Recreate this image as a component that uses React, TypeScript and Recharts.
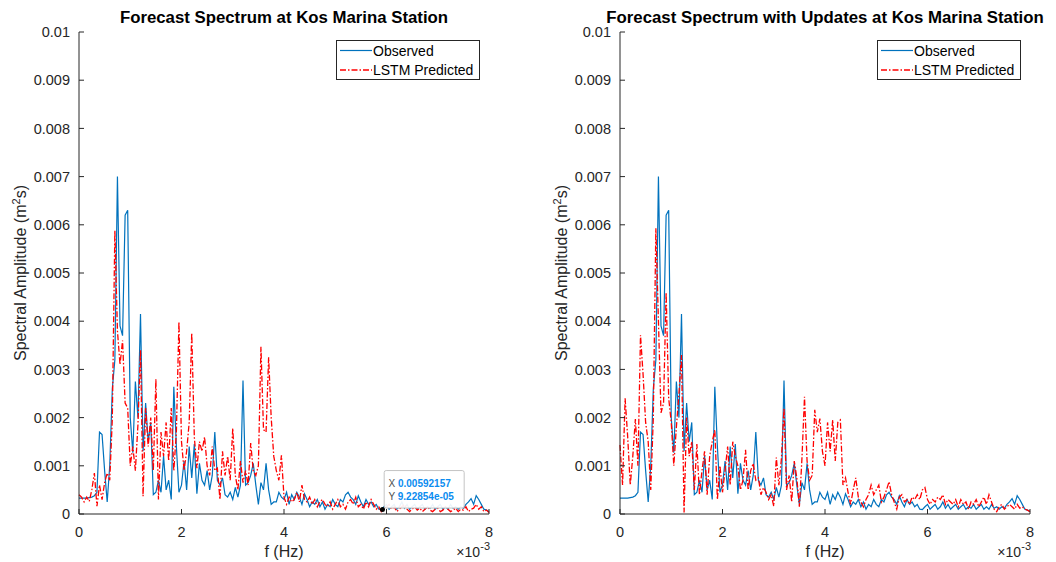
import React from "react";
import { LineChart, Line, XAxis, YAxis, ReferenceDot } from "recharts";

const FONT = '"Liberation Sans", Arial, Helvetica, sans-serif';
const INK = "#262626";
const BLUE = "#0072BD";
const RED = "#FF0000";

// FFT bin spacing, in units of 1e-3 Hz
const F_STEP = 0.05;
const xTicks = [0, 2, 4, 6, 8];
const yTicks = [0, 0.001, 0.002, 0.003, 0.004, 0.005, 0.006, 0.007, 0.008, 0.009, 0.01];

// spectral amplitudes, in units of 1e-3 m^2 s, one value per bin from 0 to 8e-3 Hz
const observed = [
  0.33, 0.33, 0.33, 0.33, 0.34, 0.35, 0.38, 0.45, 1.7, 1.65,
  0.9, 0.25, 1.0, 2.6, 3.2, 7.0, 3.9, 3.7, 6.2, 6.3,
  2.0, 1.27, 2.75, 2.0, 4.15, 1.3, 2.3, 1.5, 1.9, 0.4,
  0.45, 0.7, 0.45, 1.2, 0.5, 0.7, 0.3, 2.64, 1.4, 0.45,
  0.6, 1.1, 0.5, 1.4, 0.75, 1.45, 0.42, 1.05, 0.7, 0.6,
  0.9, 0.5, 0.8, 1.7, 0.7, 0.6, 0.75, 0.4, 0.35, 0.45,
  0.3, 0.55, 0.35, 0.6, 2.77, 0.6, 0.65, 0.8, 1.05, 0.6,
  0.2, 0.65, 0.5, 1.05, 0.5, 0.2, 0.25, 0.25, 0.45, 0.35,
  0.3, 0.45, 0.2, 0.4, 0.3, 0.45, 0.35, 0.2, 0.42, 0.3,
  0.15, 0.25, 0.2, 0.3, 0.15, 0.25, 0.1, 0.2, 0.15, 0.3,
  0.2, 0.15, 0.3, 0.25, 0.4, 0.45, 0.35, 0.3, 0.2, 0.38,
  0.25, 0.15, 0.3, 0.2, 0.25, 0.15, 0.2, 0.1, 0.09, 0.15,
  0.2, 0.1, 0.15, 0.2, 0.1, 0.15, 0.25, 0.12, 0.2, 0.1,
  0.15, 0.2, 0.1, 0.15, 0.2, 0.1, 0.15, 0.12, 0.2, 0.1,
  0.15, 0.2, 0.1, 0.15, 0.1, 0.2, 0.12, 0.15, 0.1, 0.15,
  0.12, 0.2, 0.25, 0.32, 0.2, 0.38, 0.3, 0.2, 0.1, 0.08,
  0.05,
];

const predicted = [
  0.4, 0.35, 0.25, 0.35, 0.26, 0.5, 0.85, 0.16, 0.6, 0.3,
  0.65, 0.85, 0.7, 1.97, 5.88, 3.8, 3.1, 3.6, 2.3, 2.2,
  1.0, 1.4, 0.9, 1.85, 3.4, 0.37, 2.2, 1.4, 2.0, 0.9,
  2.8, 0.3, 1.7, 1.2, 1.9, 1.1, 2.2, 0.9, 1.7, 3.99,
  1.5, 0.9, 1.3, 1.9, 3.76, 1.6, 0.95, 1.5, 1.3, 1.6,
  1.0, 0.8, 1.4, 0.9, 0.95, 0.3, 1.3, 0.8, 1.2, 0.7,
  1.78, 0.8, 0.5, 1.1, 0.65, 0.9, 0.6, 1.47, 0.9, 0.8,
  1.0, 3.47, 1.75, 1.7, 3.25, 2.0, 1.2, 0.9, 0.7, 1.22,
  0.35, 0.2, 0.35, 0.25, 0.3, 0.45, 0.25, 0.6, 0.3, 0.25,
  0.35, 0.2, 0.3, 0.15, 0.25, 0.3, 0.2, 0.15, 0.25, 0.1,
  0.2, 0.3, 0.15, 0.2, 0.1, 0.25, 0.3, 0.2, 0.35, 0.15,
  0.2, 0.1, 0.25, 0.15, 0.3, 0.2, 0.1, 0.15, 0.05, 0.1,
  0.15, 0.2, 0.1, 0.15, 0.05, 0.1, 0.15, 0.2, 0.1, 0.05,
  0.1, 0.15, 0.08, 0.12, 0.05, 0.1, 0.15, 0.08, 0.05, 0.1,
  0.12, 0.05, 0.08, 0.15, 0.1, 0.05, 0.08, 0.12, 0.05, 0.1,
  0.08, 0.15, 0.05, 0.1, 0.12, 0.2, 0.1, 0.15, 0.05, 0.08,
  0.03,
];

const predictedUpdated = [
  1.43, 0.6, 2.4, 1.6, 0.6, 1.2, 1.97, 1.0, 3.71, 2.9,
  1.9, 1.5, 0.5, 2.0, 5.93, 4.0, 2.1, 2.3, 4.6, 2.4,
  1.9, 1.0, 1.8, 2.5, 3.3, 0.03, 2.0, 1.2, 1.5, 0.5,
  1.45, 0.4, 0.9, 1.3, 0.4, 1.2, 1.5, 1.75, 0.3, 1.0,
  0.45, 0.9, 1.4, 0.6, 1.5, 1.2, 1.0, 0.5, 0.7, 1.33,
  0.5, 0.9, 1.05, 0.7, 0.75, 0.4, 0.55, 0.45, 0.3, 0.4,
  0.16, 1.17, 0.6, 1.15, 2.2, 0.5, 0.8, 0.25, 1.1, 0.75,
  0.15, 1.15, 2.43, 1.1, 0.7, 0.8, 2.16, 1.7, 1.98, 1.3,
  1.0, 1.9, 1.3, 1.95, 1.1, 1.9, 1.95, 0.6, 0.75, 0.45,
  0.2, 0.5, 0.75, 0.35, 0.25, 0.15, 0.3, 0.4, 0.6, 0.4,
  0.5, 0.6, 0.25, 0.35, 0.5, 0.67, 0.4, 0.25, 0.1, 0.35,
  0.4, 0.25, 0.3, 0.2, 0.35, 0.3, 0.4, 0.3, 0.5, 0.55,
  0.3, 0.2, 0.3, 0.25, 0.35, 0.3, 0.4, 0.2, 0.3, 0.25,
  0.2, 0.3, 0.15, 0.3, 0.2, 0.25, 0.1, 0.25, 0.2, 0.3,
  0.15, 0.25, 0.35, 0.2, 0.4, 0.25, 0.1, 0.05, 0.15, 0.2,
  0.1, 0.15, 0.2, 0.15, 0.1, 0.2, 0.12, 0.15, 0.1, 0.08,
  0.05,
];

// data tip shown on the left panel
const tipF = 5.92157; // 1e-3 Hz
const tipAmp = 0.0922854; // 1e-3 m^2 s

const makeRows = (pred: number[]) =>
  observed.map((v, i) => ({
    f: +(i * F_STEP).toFixed(2),
    observed: v * 1e-3,
    predicted: pred[i] * 1e-3,
  }));

const fmtY = (v: number) => String(parseFloat(v.toFixed(3)));

const YLabel = (props: any) => {
  const vb = props.viewBox || {};
  const cx = vb.x + 20;
  const cy = vb.y + vb.height / 2;
  return (
    <text
      x={cx}
      y={cy + 5.5}
      transform={`rotate(-90, ${cx}, ${cy})`}
      textAnchor="middle"
      fontFamily={FONT}
      fontSize={16}
      fill={INK}
    >
      Spectral Amplitude (m<tspan dy={-6} fontSize={11}>2</tspan>
      <tspan dy={6}>s)</tspan>
    </text>
  );
};

const XLabel = (props: any) => {
  const vb = props.viewBox || {};
  const right = vb.x + vb.width;
  return (
    <g fontFamily={FONT} fill={INK}>
      <text x={vb.x + vb.width / 2} y={vb.y + 43} textAnchor="middle" fontSize={16}>
        f (Hz)
      </text>
      <text x={right - 9} y={vb.y + 43} textAnchor="end" fontSize={14}>
        ×10
      </text>
      <text x={right + 1} y={vb.y + 36} textAnchor="end" fontSize={11}>
        -3
      </text>
    </g>
  );
};

const TipShape = (props: any) => {
  const { cx, cy } = props;
  return (
    <g fontFamily={FONT} fontSize={10}>
      <rect x={cx + 1.7} y={cy - 39} width={80} height={37.5} rx={2} fill="#fff" fillOpacity={0.92} stroke="#c4c4c4" />
      <text x={cx + 6} y={cy - 22.5}>
        <tspan fill="#4d4d4d">X </tspan>
        <tspan fill="#0a8cf0" fontWeight="bold">{(tipF * 1e-3).toString()}</tspan>
      </text>
      <text x={cx + 6} y={cy - 10}>
        <tspan fill="#4d4d4d">Y </tspan>
        <tspan fill="#0a8cf0" fontWeight="bold">
          {(tipAmp * 1e-3).toExponential(5).replace("e-5", "e-05")}
        </tspan>
      </text>
      <circle cx={cx} cy={cy} r={2.5} fill="#000" />
    </g>
  );
};

function LegendBox({ left, top }: { left: number; top: number }) {
  return (
    <svg
      width={144}
      height={40}
      style={{ position: "absolute", left, top, overflow: "visible" }}
      fontFamily={FONT}
    >
      <rect x={0.5} y={0.5} width={143} height={39} fill="#fff" stroke={INK} />
      <line x1={4} x2={36} y1={10.5} y2={10.5} stroke={BLUE} strokeWidth={1.2} />
      <line x1={4} x2={36} y1={30} y2={30} stroke={RED} strokeWidth={1.4} strokeDasharray="6 2 1.5 2" />
      <text x={37} y={15.5} fontSize={14} fill="#000">Observed</text>
      <text x={37} y={34.5} fontSize={14} fill="#000">LSTM Predicted</text>
    </svg>
  );
}

type PanelProps = {
  x: number;
  plotLeft: number;
  plotRight: number;
  title: string;
  pred: number[];
  tip?: boolean;
};

function Panel({ x, plotLeft, plotRight, title, pred, tip }: PanelProps) {
  const W = 528;
  const H = 562;
  const rows = makeRows(pred);
  const center = (plotLeft + plotRight) / 2;
  const tickStyle = { fill: INK, fontSize: 14.5, fontFamily: FONT };
  return (
    <div style={{ position: "absolute", left: x, top: 0, width: W, height: H }}>
      <LineChart
        width={W}
        height={H}
        data={rows}
        margin={{ top: 32, right: W - plotRight, bottom: 0, left: plotLeft - 79 }}
      >
        <XAxis
          dataKey="f"
          type="number"
          domain={[0, 8]}
          ticks={xTicks}
          interval={0}
          height={48}
          tickSize={-5}
          tickMargin={18}
          tick={tickStyle}
          axisLine={{ stroke: INK }}
          tickLine={{ stroke: INK }}
          label={(p: any) => <XLabel {...p} />}
        />
        <XAxis
          xAxisId="top"
          dataKey="f"
          type="number"
          orientation="top"
          domain={[0, 8]}
          ticks={xTicks}
          interval={0}
          height={0}
          tickSize={-5}
          tickFormatter={() => ""}
          axisLine={{ stroke: INK }}
          tickLine={{ stroke: INK }}
        />
        <YAxis
          type="number"
          domain={[0, 0.01]}
          ticks={yTicks}
          interval={0}
          width={79}
          tickSize={-5}
          tickMargin={14}
          tick={tickStyle}
          tickFormatter={fmtY}
          axisLine={{ stroke: INK }}
          tickLine={{ stroke: INK }}
          label={(p: any) => <YLabel {...p} />}
        />
        <YAxis
          yAxisId="right"
          type="number"
          orientation="right"
          domain={[0, 0.01]}
          ticks={yTicks}
          interval={0}
          width={0}
          tickSize={-5}
          tickFormatter={() => ""}
          axisLine={{ stroke: INK }}
          tickLine={{ stroke: INK }}
        />
        <Line
          type="linear"
          dataKey="observed"
          stroke={BLUE}
          strokeWidth={1.2}
          dot={false}
          isAnimationActive={false}
        />
        <Line
          type="linear"
          dataKey="predicted"
          stroke={RED}
          strokeWidth={1.3}
          strokeDasharray="6 2 1.5 2"
          dot={false}
          isAnimationActive={false}
        />
        {tip && (
          <ReferenceDot x={tipF} y={tipAmp * 1e-3} r={2.5} shape={(p: any) => <TipShape {...p} />} />
        )}
      </LineChart>
      <div
        style={{
          position: "absolute",
          left: center - 300,
          width: 600,
          top: 8,
          textAlign: "center",
          whiteSpace: "nowrap",
          fontFamily: FONT,
          fontWeight: "bold",
          fontSize: 16.8,
          lineHeight: "20px",
          color: "#000",
        }}
      >
        {title}
      </div>
      <LegendBox left={plotRight - 153} top={40} />
    </div>
  );
}

export default function App() {
  return (
    <div style={{ position: "absolute", left: 0, top: 0, width: 1056, height: 562, background: "#fff" }}>
      <Panel
        x={0}
        plotLeft={79}
        plotRight={489}
        title="Forecast Spectrum at Kos Marina Station"
        pred={predicted}
        tip
      />
      <Panel
        x={528}
        plotLeft={92}
        plotRight={502}
        title="Forecast Spectrum with Updates at Kos Marina Station"
        pred={predictedUpdated}
      />
    </div>
  );
}
